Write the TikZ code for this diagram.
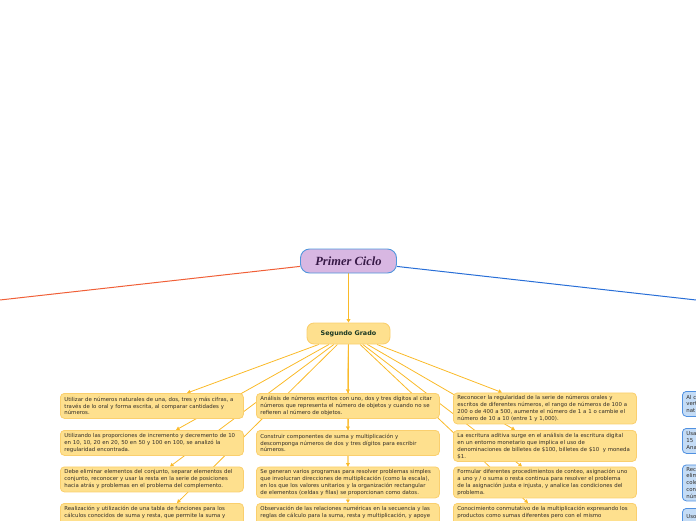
\documentclass[tikz,border=0pt]{standalone}
\usepackage{fontspec}
\setmainfont{DejaVu Sans}
\newfontfamily\titlefont{Liberation Serif}
\usetikzlibrary{arrows.meta}
\definecolor{boxfill}{RGB}{254,224,142}
\definecolor{boxdraw}{RGB}{250,207,110}
\definecolor{connc}{RGB}{250,186,40}
\definecolor{txt}{RGB}{50,45,40}
\definecolor{pcfill}{RGB}{216,183,226}
\definecolor{pcdraw}{RGB}{80,150,220}
\definecolor{pctext}{RGB}{55,25,70}
\definecolor{sgtext}{RGB}{25,55,35}
\definecolor{redline}{RGB}{240,95,55}
\definecolor{blueline}{RGB}{40,110,215}
\definecolor{bfill}{RGB}{196,220,246}
\definecolor{bdraw}{RGB}{80,145,225}
\pgfdeclarelayer{bg}
\pgfsetlayers{bg,main}
\tikzset{
  leaf/.style={draw=boxdraw, fill=boxfill, line width=0.8pt, rounded corners=4pt,
    anchor=north west, text width=175pt, inner xsep=4pt, inner ysep=2pt, align=left,
    font=\fontsize{5.4}{6.9}\selectfont, text=txt, minimum width=183pt},
  bleaf/.style={draw=bdraw, fill=bfill, line width=0.8pt, rounded corners=4pt,
    anchor=north west, text width=60pt, inner xsep=4pt, inner ysep=2pt, align=left,
    font=\fontsize{5.4}{6.9}\selectfont, text=txt},
  link/.style={draw=connc, line width=0.8pt, -{Triangle[length=3.5pt,width=3.8pt]}},
  pcbox/.style={draw=pcdraw, fill=pcfill, line width=0.9pt, rounded corners=9pt,
    minimum width=96pt, minimum height=24pt, text=pctext,
    font=\titlefont\bfseries\itshape\fontsize{12.5}{14}\selectfont},
  sgbox/.style={draw=boxdraw, fill=boxfill, line width=0.9pt, rounded corners=7pt,
    minimum width=83pt, minimum height=21pt, text=sgtext,
    font=\bfseries\fontsize{6.4}{8}\selectfont},
}
\begin{document}
\begin{tikzpicture}[x=1pt,y=-1pt]
\useasboundingbox (0,0) rectangle (696,520);

\node[pcbox] (pc) at (348.5,261) {Primer Ciclo};
\node[sgbox] (sg) at (348.5,333.5) {Segundo Grado};

\coordinate (lend) at (-10,301.1);
\coordinate (rend) at (706,301.1);

% left column
\node[leaf, minimum height=25pt] (l1) at (60,393) {Utilizar de números naturales de una, dos, tres y más cifras, a\\través de lo oral y forma escrita, al comparar cantidades y\\números.};
\node[leaf, minimum height=25pt] (l2) at (60,430) {Utilizando las proporciones de incremento y decremento de 10\\en 10, 10, 20 en 20, 50 en 50 y 100 en 100, se analizó la\\regularidad encontrada.};
\node[leaf, minimum height=25pt] (l3) at (60,466.5) {Debe eliminar elementos del conjunto, separar elementos del\\conjunto, reconocer y usar la resta en la serie de posiciones\\hacia atrás y problemas en el problema del complemento.};
\node[leaf, minimum height=30pt] (l4) at (60,503) {Realización y utilización de una tabla de funciones para los\\cálculos conocidos de suma y resta, que permite la suma y\\~\\~};

% middle column
\node[leaf, minimum height=25pt] (m1) at (256,393) {Análisis de números escritos con uno, dos y tres dígitos al citar\\números que representa el número de objetos y cuando no se\\refieren al número de objetos.};
\node[leaf, minimum height=25pt] (m2) at (256,430) {Construir componentes de suma y multiplicación y\\descomponga números de dos y tres dígitos para escribir\\números.};
\node[leaf, minimum height=31pt] (m3) at (256,466.5) {Se generan varios programas para resolver problemas simples\\que involucran direcciones de multiplicación (como la escala),\\en los que los valores unitarios y la organización rectangular\\de elementos (celdas y filas) se proporcionan como datos.};
\node[leaf, minimum height=30pt] (m4) at (256,503) {Observación de las relaciones numéricas en la secuencia y las\\reglas de cálculo para la suma, resta y multiplicación, y apoye\\~\\~};

% right column
\node[leaf, minimum height=31pt] (r1) at (453,392.5) {Reconocer la regularidad de la serie de números orales y\\escritos de diferentes números, el rango de números de 100 a\\200 o de 400 a 500, aumente el número de 1 a 1 o cambie el\\número de 10 a 10 (entre 1 y 1,000).};
\node[leaf, minimum height=31pt] (r2) at (453,430) {La escritura aditiva surge en el análisis de la escritura digital\\en un entorno monetario que implica el uso de\\denominaciones de billetes de \$100, billetes de \$10~ y moneda\\\$1.};
\node[leaf, minimum height=31pt] (r3) at (453,466.5) {Formular diferentes procedimientos de conteo, asignación uno\\a uno y / o suma o resta continua para resolver el problema\\de la asignación justa e injusta, y analice las condiciones del\\problema.};
\node[leaf, minimum height=30pt] (r4) at (453,503) {Conocimiento conmutativo de la multiplicación expresando los\\productos como sumas diferentes pero con el mismo\\~\\~};

% right edge (blue) boxes
\node[bleaf, minimum height=25pt] (b1) at (682,391) {Al c\\vert\\nat};
\node[bleaf, minimum height=25pt] (b2) at (682,428) {Usa\\15\\Ana};
\node[bleaf, minimum height=36pt] (b3) at (682,464.5) {Rec\\elim\\cole\\con\\núm};
\node[bleaf, minimum height=30pt] (b4) at (682,508) {Uso\\~\\~};

\begin{pgfonlayer}{bg}
\draw[redline, line width=1pt] (pc) -- (lend);
\draw[blueline, line width=1pt] (pc) -- (rend);
\draw[link] (pc) -- (sg);
\draw[link] (sg) -- ([xshift=127pt]l1.north west);
\draw[link] (sg) -- ([xshift=116pt]l2.north west);
\draw[link] (sg) -- ([xshift=110pt]l3.north west);
\draw[link] (sg) -- ([xshift=117pt]l4.north west);
\draw[link] (sg) -- (m1.north);
\draw[link] (sg) -- (m2.north);
\draw[link] (sg) -- (m3.north);
\draw[link] (sg) -- (m4.north);
\draw[link] (sg) -- ([xshift=49pt]r1.north west);
\draw[link] (sg) -- ([xshift=62pt]r2.north west);
\draw[link] (sg) -- ([xshift=69pt]r3.north west);
\draw[link] (sg) -- ([xshift=75pt]r4.north west);
\end{pgfonlayer}
\end{tikzpicture}
\end{document}
